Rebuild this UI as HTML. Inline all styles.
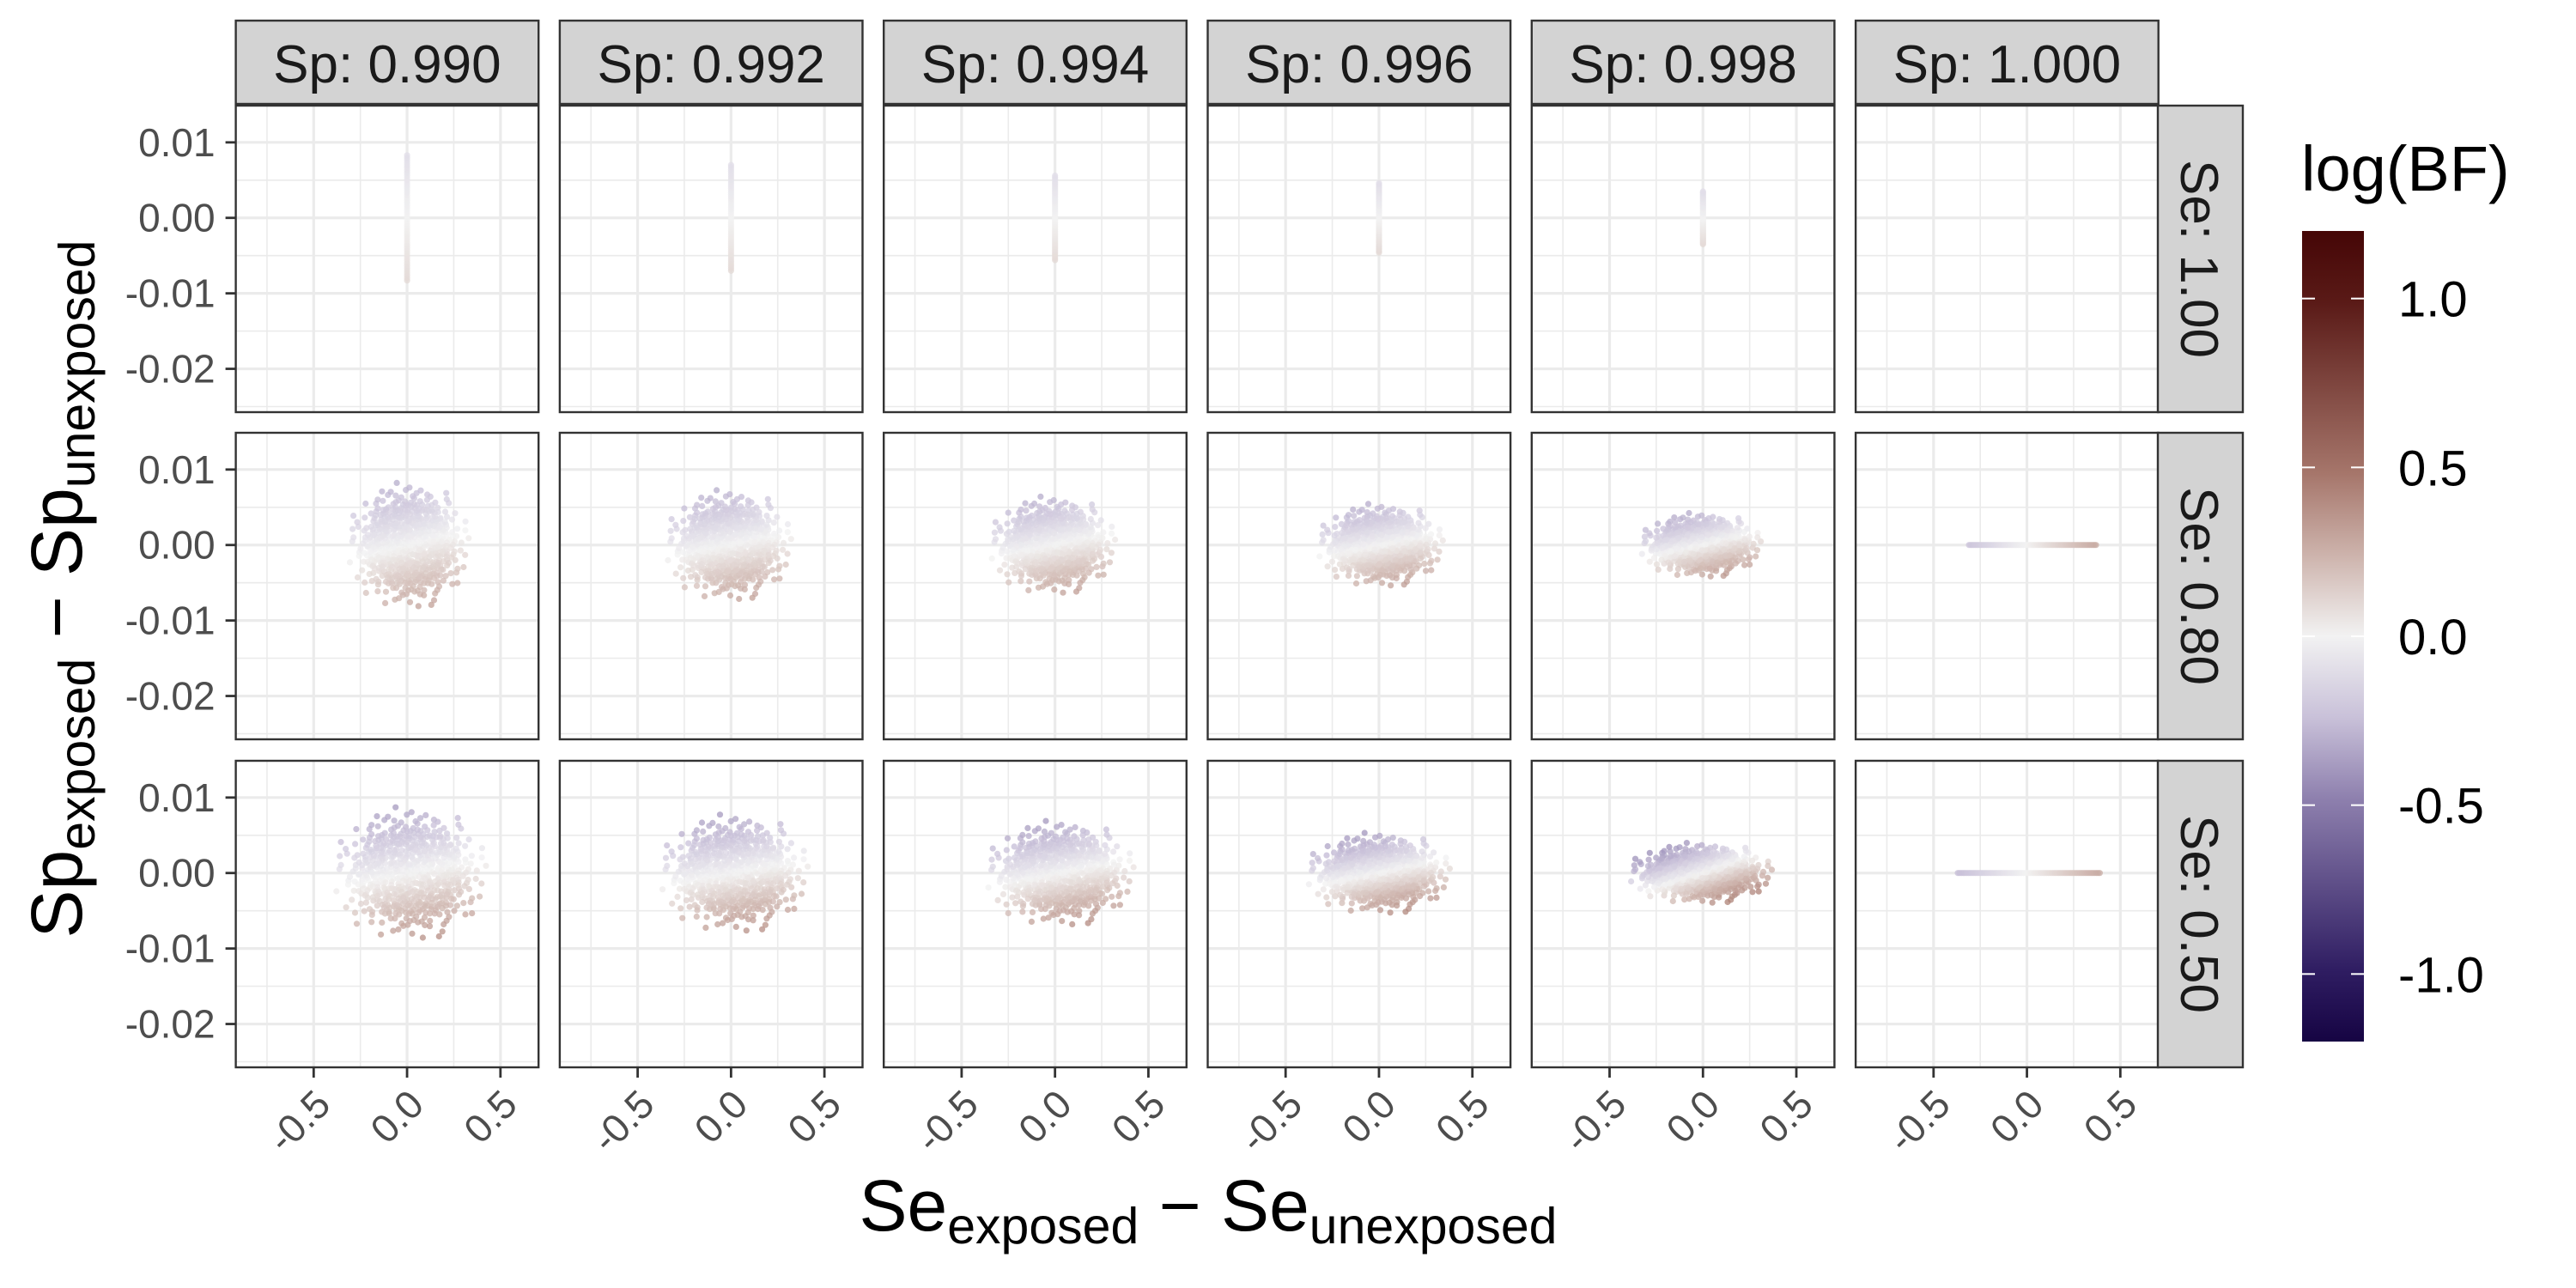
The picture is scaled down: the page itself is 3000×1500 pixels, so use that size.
<!DOCTYPE html>
<html><head><meta charset="utf-8"><style>
html,body{margin:0;padding:0;background:#fff;}
svg{display:block;font-family:"Liberation Sans",Arial,sans-serif;}
</style></head><body>
<svg id="chart" width="3000" height="1500" viewBox="0 0 3000 1500" xmlns="http://www.w3.org/2000/svg">
<defs>
<linearGradient id="cbar" x1="0" y1="0" x2="0" y2="1">
<stop offset="0" stop-color="#450606"/>
<stop offset="0.088" stop-color="#5a1a17"/>
<stop offset="0.3" stop-color="#a6766b"/>
<stop offset="0.4" stop-color="#cdb3ac"/>
<stop offset="0.5" stop-color="#f2f2f2"/>
<stop offset="0.6" stop-color="#c9c1d9"/>
<stop offset="0.7" stop-color="#8e80ae"/>
<stop offset="0.912" stop-color="#2f1d62"/>
<stop offset="1" stop-color="#160443"/>
</linearGradient>
</defs>
<g id="panels"></g>
<text x="1407" y="1433" text-anchor="middle" font-size="84" fill="#000">Se<tspan font-size="59" dy="15">exposed</tspan><tspan dy="-15"> − Se</tspan><tspan font-size="59" dy="15">unexposed</tspan></text>
<text transform="translate(95,686) rotate(-90)" text-anchor="middle" font-size="84" fill="#000">Sp<tspan font-size="59" dy="15">exposed</tspan><tspan dy="-15"> − Sp</tspan><tspan font-size="59" dy="15">unexposed</tspan></text>
<g>
<text x="2680" y="222" font-size="74" fill="#000">log(BF)</text>
<rect x="2681" y="269" width="72" height="944" fill="url(#cbar)"/>
<g id="legendTicks"></g>
</g>
</svg>
<script>
// ---- data ----
const spLevels = ["0.990","0.992","0.994","0.996","0.998","1.000"];
const seLevels = ["1.00","0.80","0.50"];
const yTicks = [0.01, 0.00, -0.01, -0.02];
const yTickLabels = ["0.01","0.00","-0.01","-0.02"];
const yMinor = [0.005, -0.005, -0.015, -0.025];
const xTicks = [-0.5, 0.0, 0.5];
const xTickLabels = ["-0.5","0.0","0.5"];
const xMinor = [-0.75, -0.25, 0.25];
const legendTicks = [1.0, 0.5, 0.0, -0.5, -1.0];
const legendTickLabels = ["1.0","0.5","0.0","-0.5","-1.0"];
// Row Se 1.00: vertical strip half-heights (Sp diff) per Sp column
const row1HalfY = [0.0083, 0.0070, 0.0056, 0.0046, 0.0035, 0.0];
// Row Se 0.80: cloud core extents
const row2HalfX = [0.27, 0.28, 0.28, 0.28, 0.27];
const row2HalfY = [0.0068, 0.0060, 0.0053, 0.0045, 0.0035];
const row2CenterX = [0.01, -0.01, -0.01, 0.01, -0.01];
// Row Se 0.50: cloud core extents
const row3HalfX = [0.34, 0.33, 0.33, 0.32, 0.32];
const row3HalfY = [0.0072, 0.0064, 0.0057, 0.0044, 0.0033];
const row3CenterX = [0.02, 0.02, 0.03, 0.0, -0.01];
// Sp = 1.000 column: horizontal lines (x ranges)
const lineXMin = [-0.31, -0.37];
const lineXMax = [0.37, 0.39];
// colour gradient weights (logBF at cloud edge along y / x)
const row2ColorY = [0.26, 0.26, 0.26, 0.26, 0.26];
const row2ColorX = [0.06, 0.06, 0.07, 0.08, 0.12];
const row3ColorY = [0.32, 0.32, 0.32, 0.32, 0.30];
const row3ColorX = [0.07, 0.07, 0.09, 0.12, 0.24];

// ---- layout ----
const NS = "http://www.w3.org/2000/svg";
const PW = 352.6, PH = 357, XMIN = -0.917, XMAX = 0.704, YMIN = -0.02574, YMAX = 0.01487;
const rowTops = [123, 504, 886];
function colLeft(k){ return 274.6 + 377.3*k; }
function xScale(v,k){ return colLeft(k) + (v - XMIN)/(XMAX - XMIN)*PW; }
function yScale(v,r){ return rowTops[r] + (YMAX - v)/(YMAX - YMIN)*PH; }
function mk(tag, attrs, parent){ const e=document.createElementNS(NS,tag); for(const a in attrs) e.setAttribute(a, attrs[a]); parent.appendChild(e); return e; }
function vdc(n,b){ let v=0, d=1; while(n>0){ d*=b; v+=(n%b)/d; n=Math.floor(n/b);} return v; }

const stops = [[-1.2,[22,4,67]],[-1.0,[47,29,98]],[-0.5,[142,128,174]],[-0.25,[201,193,217]],[0,[242,242,242]],[0.25,[205,179,172]],[0.5,[166,118,107]],[1.0,[90,26,23]],[1.2,[69,6,6]]];
function color(v){
  v=Math.max(-1.2,Math.min(1.2,v));
  for(let i=0;i<stops.length-1;i++){
    const a=stops[i], b=stops[i+1];
    if(v>=a[0]&&v<=b[0]){ const t=(v-a[0])/(b[0]-a[0]); const c=a[1].map((x,j)=>Math.round(x+(b[1][j]-x)*t)); return "rgb("+c.join(",")+")"; }
  }
  return "rgb(242,242,242)";
}

const panels = document.getElementById("panels");

for(let r=0;r<3;r++){
  for(let k=0;k<6;k++){
    const g = mk("g",{},panels);
    
    
    const L = colLeft(k), T = rowTops[r];
    const clipId = "clip"+r+"_"+k;
    const cp = mk("clipPath",{id:clipId},g);
    mk("rect",{x:L,y:T,width:PW,height:PH},cp);
    mk("rect",{x:L,y:T,width:PW,height:PH,fill:"#fff"},g);
    const grid = mk("g",{"clip-path":"url(#"+clipId+")"},g);
    
    
    yMinor.forEach(v=>mk("line",{x1:L,x2:L+PW,y1:yScale(v,r),y2:yScale(v,r),stroke:"#ebebeb","stroke-width":1.6},grid));
    xMinor.forEach(v=>mk("line",{x1:xScale(v,k),x2:xScale(v,k),y1:T,y2:T+PH,stroke:"#ebebeb","stroke-width":1.6},grid));
    yTicks.forEach(v=>mk("line",{x1:L,x2:L+PW,y1:yScale(v,r),y2:yScale(v,r),stroke:"#ebebeb","stroke-width":3.2},grid));
    xTicks.forEach(v=>mk("line",{x1:xScale(v,k),x2:xScale(v,k),y1:T,y2:T+PH,stroke:"#ebebeb","stroke-width":3.2},grid));
    const pts = mk("g",{"clip-path":"url(#"+clipId+")","fill-opacity":0.75},g);
    
    
    const addPt=(x,y,v)=>{ const c=mk("circle",{cx:xScale(x,k).toFixed(1),cy:yScale(y,r).toFixed(1),r:3.6,fill:color(v)},pts);   };
    if(r===0){
      const h=row1HalfY[k];
      if(h===0){ addPt(0,0,0); }
      else { const n=50; for(let i=0;i<=n;i++){ const y=-h+2*h*i/n; addPt(0,y,-0.1*y/h); } }
    } else if(k===5){
      const a=lineXMin[r-1], b=lineXMax[r-1], n=80, hx=Math.max(-a,b);
      for(let i=0;i<=n;i++){ const x=a+(b-a)*i/n; addPt(x,0,0.28*x/hx); }
    } else {
      const hx = r===1?row2HalfX[k]:row3HalfX[k];
      const hy = r===1?row2HalfY[k]:row3HalfY[k];
      const cx = r===1?row2CenterX[k]:row3CenterX[k];
      const wy = r===1?row2ColorY[k]:row3ColorY[k];
      const wx = r===1?row2ColorX[k]:row3ColorX[k];
      const N=600;
      for(let i=1;i<=N;i++){
        const u=vdc(i,2);
        const rad=Math.sqrt(u)*0.92 + 0.35*Math.pow(u,10);
        const th=2*Math.PI*vdc(i,3);
        const nx=rad*Math.cos(th), ny=rad*Math.sin(th);
        addPt(cx+nx*hx, ny*hy, -wy*ny + wx*nx);
      }
    }
    const border = mk("rect",{x:L,y:T,width:PW,height:PH,fill:"none",stroke:"#333","stroke-width":2.4},g);
    
    
    if(k===0){
      yTicks.forEach((v,i)=>{
        mk("line",{x1:L-12,x2:L,y1:yScale(v,r),y2:yScale(v,r),stroke:"#333","stroke-width":2.8},g);
        const t=mk("text",{x:L-24,y:yScale(v,r)+16,"text-anchor":"end","font-size":46,fill:"#4d4d4d"},g);
        t.textContent=yTickLabels[i];
        
        
      });
    }
    if(r===2){
      xTicks.forEach((v,i)=>{
        const x=xScale(v,k);
        mk("line",{x1:x,x2:x,y1:T+PH,y2:T+PH+12,stroke:"#333","stroke-width":2.8},g);
        const t=mk("text",{x:0,y:0,"text-anchor":"end","font-size":46,fill:"#4d4d4d",transform:"translate("+(x+22)+","+(T+PH+46)+") rotate(-45)"},g);
        t.textContent=xTickLabels[i];
        
        
      });
    }
    if(r===0){
      const s=mk("g",{},g);
      
      
      mk("rect",{x:L,y:24,width:PW,height:97,fill:"#d3d3d3",stroke:"#333","stroke-width":2.4},s);
      const t=mk("text",{x:L+PW/2,y:96,"text-anchor":"middle","font-size":62,fill:"#1a1a1a"},s);
      t.textContent="Sp: "+spLevels[k];
    }
    if(k===5){
      const s=mk("g",{},g);
      
      
      mk("rect",{x:2513,y:T,width:99,height:PH,fill:"#d3d3d3",stroke:"#333","stroke-width":2.4},s);
      const t=mk("text",{x:0,y:0,"text-anchor":"middle","font-size":62,fill:"#1a1a1a",transform:"translate(2540,"+(T+PH/2)+") rotate(90)"},s);
      t.textContent="Se: "+seLevels[r];
    }
  }
}
const lt=document.getElementById("legendTicks");
const lgY=v=>269+(1.2-v)/2.4*944;
legendTicks.forEach((v,i)=>{
  const y=lgY(v);
  mk("line",{x1:2681,x2:2696,y1:y,y2:y,stroke:"#fff","stroke-width":2},lt);
  mk("line",{x1:2738,x2:2753,y1:y,y2:y,stroke:"#fff","stroke-width":2},lt);
  const t=mk("text",{x:2793,y:y+21,"font-size":58,fill:"#000"},lt);
  t.textContent=legendTickLabels[i];
  
  
});
</script>
</body></html>
